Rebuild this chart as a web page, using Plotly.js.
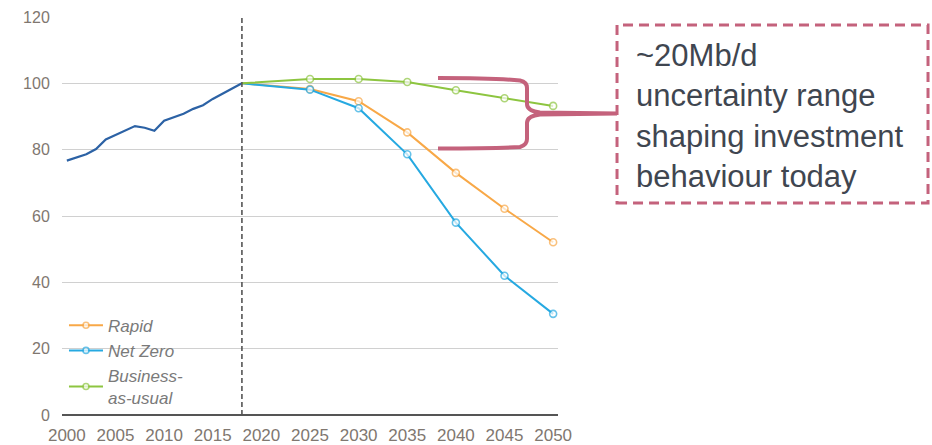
<!DOCTYPE html>
<html>
<head>
<meta charset="utf-8">
<script src="https://cdn.plot.ly/plotly-3.0.1.min.js"></script>
<style>html,body{margin:0;padding:0;background:#fff;}#chart{width:932px;height:445px;}</style>
</head>
<body>
<div id="chart"></div>
<script>
// ---- data ----
var histYears = [2000,2001,2002,2003,2004,2005,2006,2007,2008,2009,2010,2011,2012,2013,2014,2015,2016,2017,2018];
var histValues = [76.7,77.6,78.6,80.2,83.1,84.4,85.7,87.1,86.6,85.7,88.7,89.7,90.8,92.3,93.4,95.3,96.9,98.4,100];
var scenarioYears = [2018,2025,2030,2035,2040,2045,2050];
var rapidValues = [100,98.3,94.6,85.2,73.0,62.2,52.1];
var netZeroValues = [100,98.1,92.5,78.6,58.0,42.0,30.5];
var bauValues = [100,101.3,101.3,100.4,97.9,95.5,93.2];
var xTickVals = [2000,2005,2010,2015,2020,2025,2030,2035,2040,2045,2050];
var yTickVals = [0,20,40,60,80,100,120];
var legendNames = ['Rapid','Net Zero','Business-<br>as-usual'];
var boxText = '~20Mb/d<br>uncertainty range<br>shaping investment<br>behaviour today';

// ---- layout helpers (pixel -> paper) ----
var L = 62, T = 17, W = 496, H = 398;
function px(x){ return ((x - L) / W).toFixed(4); }
function py(y){ return ((T + H - y) / H).toFixed(4); }
function P(x,y){ return px(x) + ',' + py(y); }

var rose = '#c4627c';
var msizes = scenarioYears.map(function(y,i){ return i === 0 ? 0 : 7; });

function scen(name, vals, color){
  return {
    x: scenarioYears, y: vals, name: name, type: 'scatter', mode: 'lines+markers',
    line: {color: color, width: 2},
    marker: {symbol: 'circle', size: msizes, color: '#ffffff', line: {color: color, width: 1.6}},
    hoverinfo: 'x+y'
  };
}

var data = [
  {x: histYears, y: histValues, type: 'scatter', mode: 'lines', showlegend: false,
   line: {color: '#2c62a5', width: 2.2}, hoverinfo: 'x+y'},
  scen(legendNames[0], rapidValues, '#f8a847'),
  scen(legendNames[1], netZeroValues, '#26a9e1'),
  scen(legendNames[2], bauValues, '#8dc540')
];

var bracePath =
  'M' + P(438,78) + ' C' + P(470,78) + ' ' + P(505,79) + ' ' + P(520,80.5) +
  ' Q' + P(527,82) + ' ' + P(527,88) + ' L' + P(527,104) +
  ' Q' + P(527,111) + ' ' + P(540,112.5) + ' L' + P(617,113.5) +
  ' M' + P(438,148.5) + ' C' + P(470,148.5) + ' ' + P(505,148) + ' ' + P(520,147) +
  ' Q' + P(527,145) + ' ' + P(527,139) + ' L' + P(527,123) +
  ' Q' + P(527,116) + ' ' + P(540,114.5) + ' L' + P(617,113.5);

var layout = {
  width: 932, height: 445,
  margin: {l: L, r: 932 - L - W, t: T, b: 445 - T - H, pad: 0},
  paper_bgcolor: '#ffffff', plot_bgcolor: '#ffffff',
  font: {family: 'Liberation Sans, Arial, sans-serif', color: '#857d77'},
  showlegend: true,
  xaxis: {
    range: [1999.5, 2050.5], tickvals: xTickVals, showgrid: false, zeroline: false,
    showline: false, ticks: 'outside', ticklen: 5, tickcolor: 'rgba(0,0,0,0)',
    tickfont: {size: 17, color: '#7f7770'}, fixedrange: true
  },
  yaxis: {
    range: [0, 120], tickvals: yTickVals, showgrid: true, gridcolor: '#d0d0d0', gridwidth: 1,
    zeroline: true, zerolinecolor: '#555555', zerolinewidth: 2, showline: false,
    ticks: 'outside', ticklen: 8, tickcolor: 'rgba(0,0,0,0)',
    tickfont: {size: 16, color: '#7f7770'}, fixedrange: true
  },
  legend: {
    x: 0.004, y: 0.2695, xanchor: 'left', yanchor: 'top', bgcolor: 'rgba(0,0,0,0)',
    font: {size: 17, color: '#7a7a7a', style: 'italic'}, itemwidth: 34,
    tracegroupgap: 0, borderwidth: 0
  },
  shapes: [
    // white patch hiding the 20 gridline behind the legend
    {type: 'rect', layer: 'between', xref: 'paper', yref: 'y', x0: px(64), x1: px(190), y0: 19, y1: 21,
     line: {width: 0}, fillcolor: '#ffffff'},
    {type: 'line', xref: 'x', yref: 'paper', x0: 2018, x1: 2018, y0: 0, y1: 1,
     line: {color: '#555555', width: 1.6, dash: '5px,3px'}},
    {type: 'rect', xref: 'paper', yref: 'paper', x0: px(617), x1: px(928), y0: py(203), y1: py(25),
     line: {color: rose, width: 3, dash: '10px,6px'}, fillcolor: 'rgba(0,0,0,0)'},
    {type: 'path', xref: 'paper', yref: 'paper', path: bracePath,
     line: {color: rose, width: 4}}
  ],
  annotations: [
    {xref: 'paper', yref: 'paper', x: px(634), y: py(36), xanchor: 'left', yanchor: 'top',
     text: boxText, showarrow: false, align: 'left',
     font: {size: 31, color: '#3f4650', family: 'Liberation Sans, Arial, sans-serif'}}
  ]
};

Plotly.newPlot('chart', data, layout, {displayModeBar: false, staticPlot: true});
</script>
</body>
</html>
